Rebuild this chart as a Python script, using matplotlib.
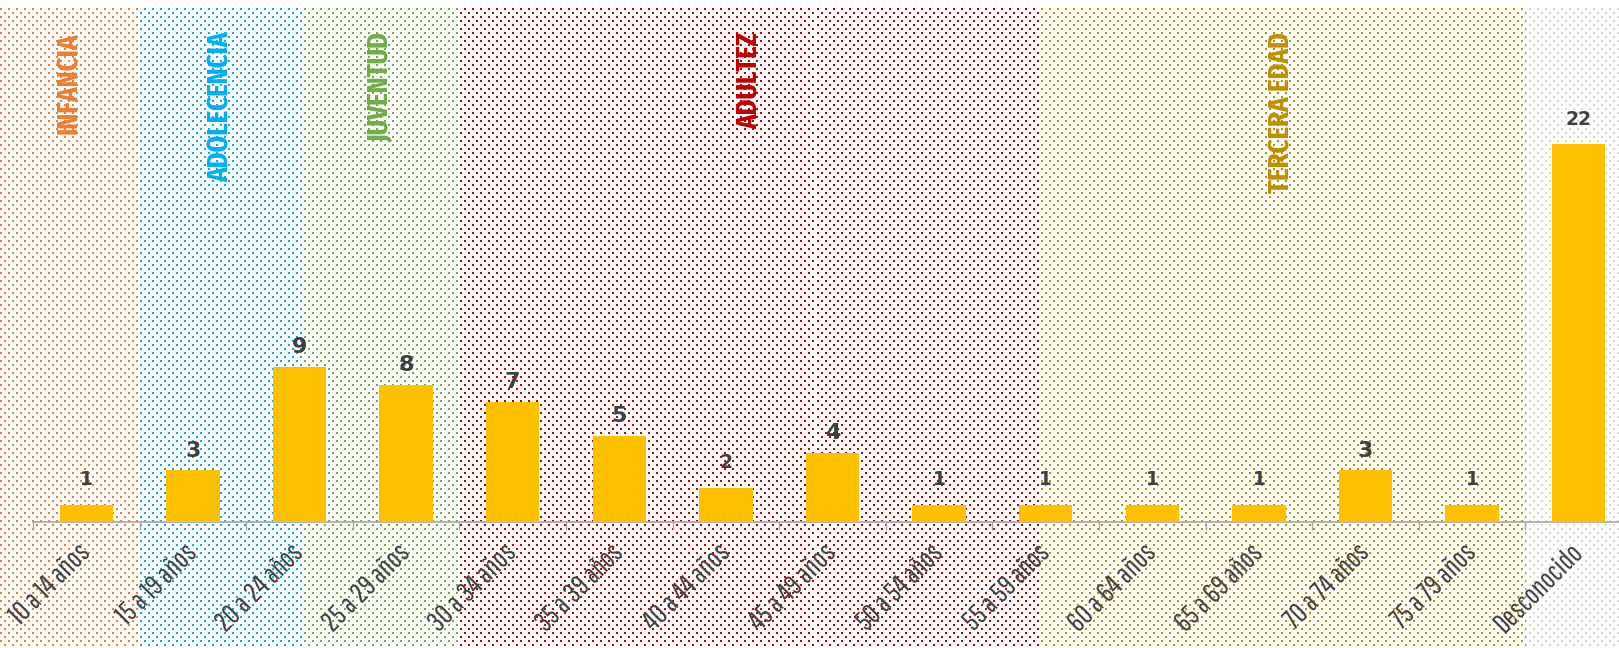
#!/usr/bin/env python3

import numpy as np
import matplotlib
matplotlib.use("Agg")
import matplotlib.pyplot as plt
from matplotlib import font_manager
from matplotlib.colors import to_rgb

categories = ["10 a 14 años", "15 a 19 años", "20 a 24 años", "25 a 29 años",
              "30 a 34 años", "35 a 39 años", "40 a 44 años", "45 a 49 años",
              "50 a 54 años", "55 a 59 años", "60 a 64 años", "65 a 69 años",
              "70 a 74 años", "75 a 79 años", "Desconocido"]
counts = [1, 3, 9, 8, 7, 5, 2, 4, 1, 1, 1, 1, 3, 1, 22]

stages = ["INFANCIA", "ADOLECENCIA", "JUVENTUD", "ADULTEZ", "TERCERA EDAD", ""]
stage_colours = ["#ED7D31", "#00B0F0", "#70AD47", "#C00000", "#BF9000", "#D9D9D9"]
# right edge of each stage band, in category units
stage_ends = [0.5, 2.03, 3.5, 8.93, 13.5, 99]

bar_colour = "#FFC000"
text_colour = "#404040"
axis_colour = "#A6A6A6"

W, H = 1619, 648
installed = {f.name for f in font_manager.fontManager.ttflist}


def pick(*names):
    for n in names:
        if n in installed:
            return n
    return "DejaVu Sans"


label_font = pick("Pathway Gothic One", "Saira Extra Condensed", "Fira Sans Extra Condensed",
                  "Pragati Narrow")
title_font = pick("Saira Extra Condensed", "Fira Sans Extra Condensed", "Oswald", "Fjalla One")


def fit_size(fig, sample, target_px, **kw):
    r = fig.canvas.get_renderer()
    t = fig.text(0, 0, sample, fontsize=10, **kw)
    w = t.get_window_extent(r).width
    t.remove()
    return 10 * target_px / w


def main():
    fig = plt.figure(figsize=(W / 100, H / 100), dpi=100)
    fig.patch.set_facecolor("white")

    # main axes: left edge at 33px, one category = 106.6px, one unit = 17.18px
    ax = fig.add_axes([33 / W, 126 / H, (W - 33) / W, 515 / H], zorder=2)
    ax.set_facecolor("none")
    xlim = (-0.5, -0.5 + (W - 33) / 106.6)
    ylim = (0, 515 / 17.18)
    ax.set_xlim(*xlim)
    ax.set_ylim(*ylim)

    # dotted background bands, drawn pixel by pixel
    bg_h = 640
    yy, xx = np.mgrid[0:bg_h, 0:W]
    dots = ((xx % 8 < 2) & (yy % 8 < 2)) | (((xx + 4) % 8 < 2) & ((yy + 4) % 8 < 2))
    inv = ax.transData.inverted()
    xdata = inv.transform(np.column_stack([np.arange(W) + 0.5, np.zeros(W)]))[:, 0]
    band = np.searchsorted(stage_ends, xdata)
    cols = np.array([to_rgb(c) for c in stage_colours])
    img = np.ones((bg_h, W, 3))
    col_img = cols[band][None, :, :].repeat(bg_h, axis=0)
    img[dots] = col_img[dots]

    bg = fig.add_axes([0, 0, 1, bg_h / H], zorder=0)
    bg.imshow(img, extent=(0, W, 0, bg_h), aspect="auto", interpolation="nearest")
    bg.set_xlim(0, W)
    bg.set_ylim(0, bg_h)
    bg.set_axis_off()

    # stage titles, centred in their band
    title_size = fit_size(fig, "INFANCIA", 101, family=title_font, fontweight="bold")
    edges_px = [0] + [ax.transData.transform((e, 0))[0] for e in stage_ends[:-1]]
    for i, (name, colour) in enumerate(zip(stages, stage_colours)):
        if not name:
            continue
        xc = (edges_px[i] + edges_px[i + 1]) / 2 / W
        fig.text(xc, 1 - 32 / H, name, rotation=90, ha="center", va="top",
                 color=colour, fontsize=title_size, fontweight="bold",
                 family=[title_font, "DejaVu Sans"], zorder=3)

    x = np.arange(len(categories))
    ax.bar(x, counts, width=0.5, color=bar_colour, zorder=3)
    for xi, c in zip(x, counts):
        big = 3 <= c <= 9
        ax.annotate(str(c), (xi, c), xytext=(0, 10 if big else 14), textcoords="offset points",
                    ha="center", va="baseline", fontsize=16 if big else 13.5,
                    fontweight="bold", color=text_colour)

    label_size = fit_size(fig, "10 a 14 años", 101, family=label_font)
    ax.set_xticks(x)
    ax.set_xticklabels(categories, rotation=45, ha="right", va="center",
                       rotation_mode="anchor", fontsize=label_size, color=text_colour,
                       family=[label_font, "DejaVu Sans"])
    ax.set_xticks(np.arange(-0.5, len(categories), 1), minor=True)
    ax.tick_params(axis="x", which="major", length=0, pad=19)
    ax.tick_params(axis="x", which="minor", length=6, width=1, color=axis_colour)
    ax.set_yticks([])
    # set_xticks may widen the view, so put the limits back
    ax.set_xlim(*xlim)
    ax.set_ylim(*ylim)
    for s in ("top", "left", "right"):
        ax.spines[s].set_visible(False)
    ax.spines["bottom"].set_color(axis_colour)
    ax.spines["bottom"].set_linewidth(1.2)

    fig.savefig("out.png", dpi=100)


if __name__ == "__main__":
    main()
